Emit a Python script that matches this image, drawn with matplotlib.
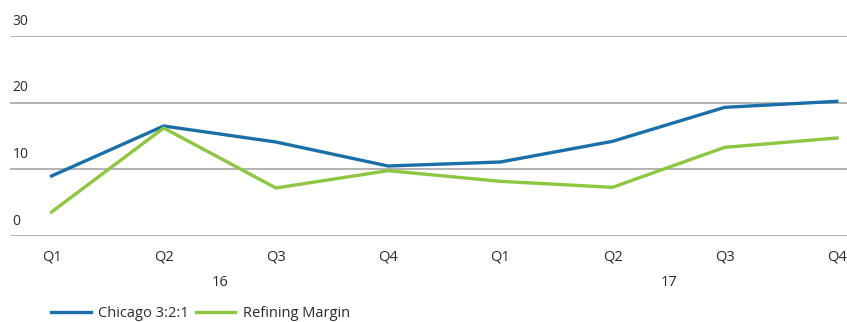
import matplotlib.pyplot as plt
from matplotlib.transforms import blended_transform_factory

quarters = ["Q1", "Q2", "Q3", "Q4", "Q1", "Q2", "Q3", "Q4"]
years = ["16", "17"]
chicago = [9.0, 16.5, 14.1, 10.5, 11.1, 14.2, 19.3, 20.2]
refining = [3.6, 16.2, 7.2, 9.8, 8.2, 7.3, 13.3, 14.7]
yticks = [0, 10, 20, 30]

plt.rcParams['font.family'] = ['Open Sans', 'DejaVu Sans']
txt_color = '#2a2a2a'

fig = plt.figure(figsize=(8.47, 3.22), dpi=100)
ax = fig.add_axes([10 / 847, 1 - 236 / 322, 837 / 847, 200 / 322])

x = list(range(len(quarters)))
ax.plot(x, chicago, color='#1b6fa9', lw=2.4, label='Chicago 3:2:1', solid_joinstyle='round')
ax.plot(x, refining, color='#8dc641', lw=2.4, label='Refining Margin', solid_joinstyle='round')

ax.set_ylim(0, 30)
ax.set_xlim(-0.37, 7.09)
for s in ax.spines.values():
    s.set_visible(False)
ax.set_yticks(yticks)
ax.set_yticklabels([])
ax.tick_params(axis='y', length=0)
ax.grid(axis='y', color='#a6a6a6', lw=1.2)
ax.set_axisbelow(True)

trans = blended_transform_factory(ax.transAxes, ax.transData)
for v in yticks:
    ax.text(0.003, v + 1.1, str(v), transform=trans, ha='left', va='bottom',
            fontsize=10, color=txt_color)

ax.set_xticks(x)
ax.set_xticklabels(quarters, fontsize=10.5, color=txt_color)
ax.tick_params(axis='x', length=0, pad=10)

tx = blended_transform_factory(ax.transData, ax.transAxes)
ax.text(1.5, -0.235, years[0], transform=tx, ha='center', va='center', fontsize=10.5, color=txt_color)
ax.text(5.5, -0.235, years[1], transform=tx, ha='center', va='center', fontsize=10.5, color=txt_color)

fig.legend(loc='lower left', bbox_to_anchor=(0.045, -0.038), ncol=2, frameon=False,
           fontsize=10.5, handlelength=2.7, columnspacing=0.5, handletextpad=0.5,
           labelcolor=txt_color)

fig.savefig('out.png', dpi=100)
